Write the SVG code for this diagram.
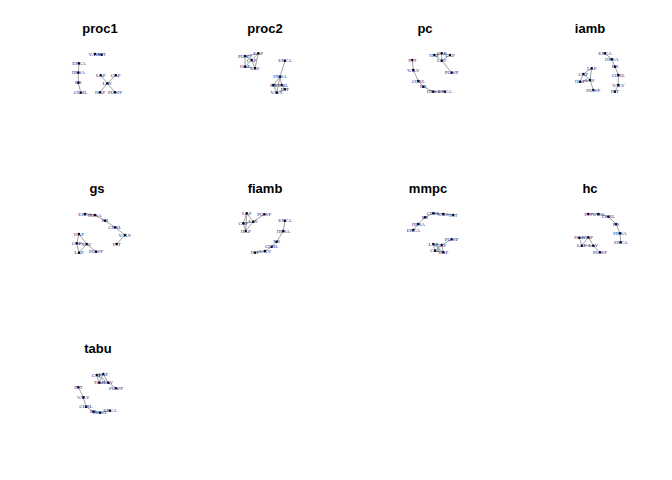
<svg xmlns="http://www.w3.org/2000/svg" width="672" height="480" viewBox="0 0 672 480">
<style>
.t{font-family:"Liberation Sans",Arial,sans-serif;font-weight:bold;font-size:13px;text-anchor:middle;fill:#000}
.n circle{fill:#000}
.n text{font-family:"Liberation Serif","Times New Roman",serif;font-size:5px;fill:#1c1c80;text-anchor:middle;dominant-baseline:central}
.e line{stroke:#8a8a8a;stroke-width:0.8}
</style>
<rect width="672" height="480" fill="#fff"/>
<g id="titles">
<text class="t" x="100" y="33">proc1</text>
<text class="t" x="265" y="33">proc2</text>
<text class="t" x="425" y="33">pc</text>
<text class="t" x="590" y="33">iamb</text>
<text class="t" x="97" y="193">gs</text>
<text class="t" x="265" y="193">fiamb</text>
<text class="t" x="428" y="193">mmpc</text>
<text class="t" x="590" y="193">hc</text>
<text class="t" x="98" y="353">tabu</text>
</g>
<g id="connectors" class="e">
<!-- p1 -->
<line x1="79" y1="63.3" x2="78.3" y2="72.7"/><line x1="78.3" y1="72.7" x2="78.3" y2="82.7"/><line x1="78.3" y1="82.7" x2="80.7" y2="92.7"/><line x1="95" y1="54" x2="101.7" y2="54.7"/><line x1="100.7" y1="75.3" x2="107.3" y2="83.3"/><line x1="115.7" y1="75.3" x2="107.3" y2="83.3"/><line x1="107.3" y1="83.3" x2="100" y2="92.3"/><line x1="107.3" y1="83.3" x2="115" y2="92.3"/>
<!-- p2 -->
<line x1="245" y1="56" x2="258.3" y2="53.3"/><line x1="245" y1="56" x2="251.7" y2="60"/><line x1="258.3" y1="53.3" x2="251.7" y2="60"/><line x1="251.7" y1="60" x2="245" y2="66.7"/><line x1="251.7" y1="60" x2="255" y2="68.3"/><line x1="245" y1="66.7" x2="255" y2="68.3"/><line x1="245" y1="56" x2="245" y2="66.7"/><line x1="258.3" y1="53.3" x2="255" y2="68.3"/>
<line x1="285" y1="60.7" x2="280" y2="76.7"/><line x1="280" y1="76.7" x2="273.3" y2="85"/><line x1="280" y1="76.7" x2="281.7" y2="85"/><line x1="273.3" y1="85" x2="281.7" y2="85"/><line x1="273.3" y1="85" x2="276.7" y2="92.7"/><line x1="281.7" y1="85" x2="285" y2="89.3"/><line x1="276.7" y1="92.7" x2="285" y2="89.3"/><line x1="280" y1="76.7" x2="276.7" y2="92.7"/>
<!-- p3 -->
<line x1="412.3" y1="60" x2="413.3" y2="70"/><line x1="413.3" y1="70" x2="418.3" y2="81"/><line x1="418.3" y1="81" x2="423.3" y2="86.7"/><line x1="423.3" y1="86.7" x2="433.3" y2="91.7"/><line x1="433.3" y1="91.7" x2="445" y2="91.7"/><line x1="434.3" y1="55" x2="441.7" y2="53.3"/><line x1="441.7" y1="53.3" x2="450" y2="55"/><line x1="434.3" y1="55" x2="441.7" y2="60.7"/><line x1="441.7" y1="53.3" x2="441.7" y2="60.7"/><line x1="450" y1="55" x2="441.7" y2="60.7"/><line x1="441.7" y1="60.7" x2="451.7" y2="72.7"/>
<!-- p4 -->
<line x1="605" y1="53.3" x2="611.7" y2="59.3"/><line x1="611.7" y1="59.3" x2="615" y2="66.7"/><line x1="615" y1="66.7" x2="618.3" y2="75"/><line x1="618.3" y1="75" x2="618.3" y2="85"/><line x1="618.3" y1="85" x2="615" y2="91.7"/><line x1="591.7" y1="68.3" x2="583.3" y2="74"/><line x1="591.7" y1="68.3" x2="590" y2="80"/><line x1="583.3" y1="74" x2="590" y2="80"/><line x1="583.3" y1="74" x2="580" y2="81.7"/><line x1="580" y1="81.7" x2="590" y2="80"/><line x1="590" y1="80" x2="593.3" y2="90"/>
<!-- p5 -->
<line x1="85" y1="214" x2="95" y2="215"/><line x1="95" y1="215" x2="105" y2="220.7"/><line x1="105" y1="220.7" x2="115" y2="227.3"/><line x1="115" y1="227.3" x2="125" y2="235"/><line x1="125" y1="235" x2="116.7" y2="244"/><line x1="79" y1="234" x2="76.7" y2="243.3"/><line x1="79" y1="234" x2="86.7" y2="244"/><line x1="76.7" y1="243.3" x2="86.7" y2="244"/><line x1="76.7" y1="243.3" x2="79" y2="252.7"/><line x1="79" y1="252.7" x2="86.7" y2="244"/><line x1="86.7" y1="244" x2="96" y2="251.7"/>
<!-- p6 -->
<line x1="246.7" y1="213.3" x2="243.3" y2="223.3"/><line x1="246.7" y1="213.3" x2="253.3" y2="221.7"/><line x1="243.3" y1="223.3" x2="253.3" y2="221.7"/><line x1="243.3" y1="223.3" x2="245.7" y2="231"/><line x1="253.3" y1="221.7" x2="245.7" y2="231"/><line x1="253.3" y1="221.7" x2="264.3" y2="214.3"/><line x1="246.7" y1="213.3" x2="245.7" y2="231"/><line x1="285" y1="220.7" x2="283.3" y2="231"/><line x1="283.3" y1="231" x2="276.7" y2="241.7"/><line x1="276.7" y1="241.7" x2="271.7" y2="246.7"/><line x1="271.7" y1="246.7" x2="265" y2="251"/><line x1="265" y1="251" x2="255" y2="252.7"/>
<!-- p7 -->
<line x1="433.3" y1="213.3" x2="443.3" y2="214"/><line x1="443.3" y1="214" x2="453.3" y2="215"/><line x1="433.3" y1="213.3" x2="425" y2="217.3"/><line x1="425" y1="217.3" x2="418.3" y2="224"/><line x1="418.3" y1="224" x2="413.3" y2="230"/><line x1="451.7" y1="239.3" x2="441.7" y2="245"/><line x1="433.3" y1="244" x2="441.7" y2="245"/><line x1="433.3" y1="244" x2="435" y2="250.7"/><line x1="435" y1="250.7" x2="443.3" y2="252.3"/><line x1="441.7" y1="245" x2="443.3" y2="252.3"/><line x1="433.3" y1="244" x2="443.3" y2="252.3"/><line x1="441.7" y1="245" x2="435" y2="250.7"/>
<!-- p8 -->
<line x1="588.3" y1="214" x2="598.3" y2="214"/><line x1="598.3" y1="214" x2="608.3" y2="216.7"/><line x1="608.3" y1="216.7" x2="616" y2="224"/><line x1="616" y1="224" x2="620" y2="233.3"/><line x1="620" y1="233.3" x2="620.7" y2="242.3"/><line x1="579.3" y1="237.7" x2="588.3" y2="237.3"/><line x1="579.3" y1="237.7" x2="581.7" y2="245.7"/><line x1="588.3" y1="237.3" x2="593.3" y2="245.7"/><line x1="581.7" y1="245.7" x2="593.3" y2="245.7"/><line x1="588.3" y1="237.3" x2="581.7" y2="245.7"/><line x1="593.3" y1="245.7" x2="600" y2="252.3"/>
<!-- p9 -->
<line x1="96.7" y1="375" x2="103.3" y2="374"/><line x1="96.7" y1="375" x2="99.3" y2="382.7"/><line x1="103.3" y1="374" x2="108.3" y2="382.7"/><line x1="99.3" y1="382.7" x2="108.3" y2="382.7"/><line x1="103.3" y1="374" x2="99.3" y2="382.7"/><line x1="96.7" y1="375" x2="108.3" y2="382.7"/><line x1="108.3" y1="382.7" x2="116" y2="388.3"/><line x1="78.3" y1="387.3" x2="83.3" y2="397.3"/><line x1="83.3" y1="397.3" x2="86" y2="406.7"/><line x1="86" y1="406.7" x2="93.3" y2="411.7"/><line x1="93.3" y1="411.7" x2="100" y2="412.7"/><line x1="100" y1="412.7" x2="110" y2="410.7"/>
</g>
<!-- p1 nodes -->
<g id="p1-VALV" class="n"><circle cx="95" cy="54" r="1.2"/><text x="95" y="54">VALV</text></g>
<g id="p1-INT" class="n"><circle cx="101.7" cy="54.7" r="1.2"/><text x="101.7" y="54.7">INT</text></g>
<g id="p1-ERCA" class="n"><circle cx="79" cy="63.3" r="1.2"/><text x="79" y="63.3">ERCA</text></g>
<g id="p1-HRSA" class="n"><circle cx="78.3" cy="72.7" r="1.2"/><text x="78.3" y="72.7">HRSA</text></g>
<g id="p1-RR" class="n"><circle cx="78.3" cy="82.7" r="1.2"/><text x="78.3" y="82.7">RR</text></g>
<g id="p1-CORL" class="n"><circle cx="80.7" cy="92.7" r="1.2"/><text x="80.7" y="92.7">CORL</text></g>
<g id="p1-LAP" class="n"><circle cx="100.7" cy="75.3" r="1.2"/><text x="100.7" y="75.3">LAP</text></g>
<g id="p1-CAP" class="n"><circle cx="115.7" cy="75.3" r="1.2"/><text x="115.7" y="75.3">CAP</text></g>
<g id="p1-LAV" class="n"><circle cx="107.3" cy="83.3" r="1.2"/><text x="107.3" y="83.3">LAV</text></g>
<g id="p1-HAP" class="n"><circle cx="100" cy="92.3" r="1.2"/><text x="100" y="92.3">HAP</text></g>
<g id="p1-POWP" class="n"><circle cx="115" cy="92.3" r="1.2"/><text x="115" y="92.3">POWP</text></g>
<!-- p2 nodes -->
<g id="p2-POWP" class="n"><circle cx="245" cy="56" r="1.2"/><text x="245" y="56">POWP</text></g>
<g id="p2-LAP" class="n"><circle cx="258.3" cy="53.3" r="1.2"/><text x="258.3" y="53.3">LAP</text></g>
<g id="p2-CAP" class="n"><circle cx="251.7" cy="60" r="1.2"/><text x="251.7" y="60">CAP</text></g>
<g id="p2-HAP" class="n"><circle cx="245" cy="66.7" r="1.2"/><text x="245" y="66.7">HAP</text></g>
<g id="p2-LAV" class="n"><circle cx="255" cy="68.3" r="1.2"/><text x="255" y="68.3">LAV</text></g>
<g id="p2-ERCA" class="n"><circle cx="285" cy="60.7" r="1.2"/><text x="285" y="60.7">ERCA</text></g>
<g id="p2-HRSA" class="n"><circle cx="280" cy="76.7" r="1.2"/><text x="280" y="76.7">HRSA</text></g>
<g id="p2-RR" class="n"><circle cx="273.3" cy="85" r="1.2"/><text x="273.3" y="85">RR</text></g>
<g id="p2-CORL" class="n"><circle cx="281.7" cy="85" r="1.2"/><text x="281.7" y="85">CORL</text></g>
<g id="p2-INT" class="n"><circle cx="285" cy="89.3" r="1.2"/><text x="285" y="89.3">INT</text></g>
<g id="p2-VALV" class="n"><circle cx="276.7" cy="92.7" r="1.2"/><text x="276.7" y="92.7">VALV</text></g>
<!-- p3 nodes -->
<g id="p3-INT" class="n"><circle cx="412.3" cy="60" r="1.2"/><text x="412.3" y="60">INT</text></g>
<g id="p3-VALV" class="n"><circle cx="413.3" cy="70" r="1.2"/><text x="413.3" y="70">VALV</text></g>
<g id="p3-CORL" class="n"><circle cx="418.3" cy="81" r="1.2"/><text x="418.3" y="81">CORL</text></g>
<g id="p3-RR" class="n"><circle cx="423.3" cy="86.7" r="1.2"/><text x="423.3" y="86.7">RR</text></g>
<g id="p3-HRSA" class="n"><circle cx="433.3" cy="91.7" r="1.2"/><text x="433.3" y="91.7">HRSA</text></g>
<g id="p3-ERCA" class="n"><circle cx="445" cy="91.7" r="1.2"/><text x="445" y="91.7">ERCA</text></g>
<g id="p3-HAP" class="n"><circle cx="434.3" cy="55" r="1.2"/><text x="434.3" y="55">HAP</text></g>
<g id="p3-CAP" class="n"><circle cx="441.7" cy="53.3" r="1.2"/><text x="441.7" y="53.3">CAP</text></g>
<g id="p3-LAP" class="n"><circle cx="450" cy="55" r="1.2"/><text x="450" y="55">LAP</text></g>
<g id="p3-LAV" class="n"><circle cx="441.7" cy="60.7" r="1.2"/><text x="441.7" y="60.7">LAV</text></g>
<g id="p3-POWP" class="n"><circle cx="451.7" cy="72.7" r="1.2"/><text x="451.7" y="72.7">POWP</text></g>
<!-- p4 nodes -->
<g id="p4-ERCA" class="n"><circle cx="605" cy="53.3" r="1.2"/><text x="605" y="53.3">ERCA</text></g>
<g id="p4-HRSA" class="n"><circle cx="611.7" cy="59.3" r="1.2"/><text x="611.7" y="59.3">HRSA</text></g>
<g id="p4-RR" class="n"><circle cx="615" cy="66.7" r="1.2"/><text x="615" y="66.7">RR</text></g>
<g id="p4-CORL" class="n"><circle cx="618.3" cy="75" r="1.2"/><text x="618.3" y="75">CORL</text></g>
<g id="p4-VALV" class="n"><circle cx="618.3" cy="85" r="1.2"/><text x="618.3" y="85">VALV</text></g>
<g id="p4-INT" class="n"><circle cx="615" cy="91.7" r="1.2"/><text x="615" y="91.7">INT</text></g>
<g id="p4-LAP" class="n"><circle cx="591.7" cy="68.3" r="1.2"/><text x="591.7" y="68.3">LAP</text></g>
<g id="p4-CAP" class="n"><circle cx="583.3" cy="74" r="1.2"/><text x="583.3" y="74">CAP</text></g>
<g id="p4-LAV" class="n"><circle cx="590" cy="80" r="1.2"/><text x="590" y="80">LAV</text></g>
<g id="p4-HAP" class="n"><circle cx="580" cy="81.7" r="1.2"/><text x="580" y="81.7">HAP</text></g>
<g id="p4-POWP" class="n"><circle cx="593.3" cy="90" r="1.2"/><text x="593.3" y="90">POWP</text></g>
<!-- p5 nodes -->
<g id="p5-ERCA" class="n"><circle cx="85" cy="214" r="1.2"/><text x="85" y="214">ERCA</text></g>
<g id="p5-HRSA" class="n"><circle cx="95" cy="215" r="1.2"/><text x="95" y="215">HRSA</text></g>
<g id="p5-RR" class="n"><circle cx="105" cy="220.7" r="1.2"/><text x="105" y="220.7">RR</text></g>
<g id="p5-CORL" class="n"><circle cx="115" cy="227.3" r="1.2"/><text x="115" y="227.3">CORL</text></g>
<g id="p5-VALV" class="n"><circle cx="125" cy="235" r="1.2"/><text x="125" y="235">VALV</text></g>
<g id="p5-INT" class="n"><circle cx="116.7" cy="244" r="1.2"/><text x="116.7" y="244">INT</text></g>
<g id="p5-HAP" class="n"><circle cx="79" cy="234" r="1.2"/><text x="79" y="234">HAP</text></g>
<g id="p5-CAP" class="n"><circle cx="76.7" cy="243.3" r="1.2"/><text x="76.7" y="243.3">CAP</text></g>
<g id="p5-LAV" class="n"><circle cx="86.7" cy="244" r="1.2"/><text x="86.7" y="244">LAV</text></g>
<g id="p5-LAP" class="n"><circle cx="79" cy="252.7" r="1.2"/><text x="79" y="252.7">LAP</text></g>
<g id="p5-POWP" class="n"><circle cx="96" cy="251.7" r="1.2"/><text x="96" y="251.7">POWP</text></g>
<!-- p6 nodes -->
<g id="p6-LAP" class="n"><circle cx="246.7" cy="213.3" r="1.2"/><text x="246.7" y="213.3">LAP</text></g>
<g id="p6-POWP" class="n"><circle cx="264.3" cy="214.3" r="1.2"/><text x="264.3" y="214.3">POWP</text></g>
<g id="p6-CAP" class="n"><circle cx="243.3" cy="223.3" r="1.2"/><text x="243.3" y="223.3">CAP</text></g>
<g id="p6-LAV" class="n"><circle cx="253.3" cy="221.7" r="1.2"/><text x="253.3" y="221.7">LAV</text></g>
<g id="p6-HAP" class="n"><circle cx="245.7" cy="231" r="1.2"/><text x="245.7" y="231">HAP</text></g>
<g id="p6-ERCA" class="n"><circle cx="285" cy="220.7" r="1.2"/><text x="285" y="220.7">ERCA</text></g>
<g id="p6-HRSA" class="n"><circle cx="283.3" cy="231" r="1.2"/><text x="283.3" y="231">HRSA</text></g>
<g id="p6-RR" class="n"><circle cx="276.7" cy="241.7" r="1.2"/><text x="276.7" y="241.7">RR</text></g>
<g id="p6-CORL" class="n"><circle cx="271.7" cy="246.7" r="1.2"/><text x="271.7" y="246.7">CORL</text></g>
<g id="p6-VALV" class="n"><circle cx="265" cy="251" r="1.2"/><text x="265" y="251">VALV</text></g>
<g id="p6-INT" class="n"><circle cx="255" cy="252.7" r="1.2"/><text x="255" y="252.7">INT</text></g>
<!-- p7 nodes -->
<g id="p7-CORL" class="n"><circle cx="433.3" cy="213.3" r="1.2"/><text x="433.3" y="213.3">CORL</text></g>
<g id="p7-VALV" class="n"><circle cx="443.3" cy="214" r="1.2"/><text x="443.3" y="214">VALV</text></g>
<g id="p7-INT" class="n"><circle cx="453.3" cy="215" r="1.2"/><text x="453.3" y="215">INT</text></g>
<g id="p7-RR" class="n"><circle cx="425" cy="217.3" r="1.2"/><text x="425" y="217.3">RR</text></g>
<g id="p7-HRSA" class="n"><circle cx="418.3" cy="224" r="1.2"/><text x="418.3" y="224">HRSA</text></g>
<g id="p7-ERCA" class="n"><circle cx="413.3" cy="230" r="1.2"/><text x="413.3" y="230">ERCA</text></g>
<g id="p7-POWP" class="n"><circle cx="451.7" cy="239.3" r="1.2"/><text x="451.7" y="239.3">POWP</text></g>
<g id="p7-LAP" class="n"><circle cx="433.3" cy="244" r="1.2"/><text x="433.3" y="244">LAP</text></g>
<g id="p7-LAV" class="n"><circle cx="441.7" cy="245" r="1.2"/><text x="441.7" y="245">LAV</text></g>
<g id="p7-CAP" class="n"><circle cx="435" cy="250.7" r="1.2"/><text x="435" y="250.7">CAP</text></g>
<g id="p7-HAP" class="n"><circle cx="443.3" cy="252.3" r="1.2"/><text x="443.3" y="252.3">HAP</text></g>
<!-- p8 nodes -->
<g id="p8-INT" class="n"><circle cx="588.3" cy="214" r="1.2"/><text x="588.3" y="214">INT</text></g>
<g id="p8-VALV" class="n"><circle cx="598.3" cy="214" r="1.2"/><text x="598.3" y="214">VALV</text></g>
<g id="p8-CORL" class="n"><circle cx="608.3" cy="216.7" r="1.2"/><text x="608.3" y="216.7">CORL</text></g>
<g id="p8-RR" class="n"><circle cx="616" cy="224" r="1.2"/><text x="616" y="224">RR</text></g>
<g id="p8-HRSA" class="n"><circle cx="620" cy="233.3" r="1.2"/><text x="620" y="233.3">HRSA</text></g>
<g id="p8-ERCA" class="n"><circle cx="620.7" cy="242.3" r="1.2"/><text x="620.7" y="242.3">ERCA</text></g>
<g id="p8-HAP" class="n"><circle cx="579.3" cy="237.7" r="1.2"/><text x="579.3" y="237.7">HAP</text></g>
<g id="p8-CAP" class="n"><circle cx="588.3" cy="237.3" r="1.2"/><text x="588.3" y="237.3">CAP</text></g>
<g id="p8-LAP" class="n"><circle cx="581.7" cy="245.7" r="1.2"/><text x="581.7" y="245.7">LAP</text></g>
<g id="p8-LAV" class="n"><circle cx="593.3" cy="245.7" r="1.2"/><text x="593.3" y="245.7">LAV</text></g>
<g id="p8-POWP" class="n"><circle cx="600" cy="252.3" r="1.2"/><text x="600" y="252.3">POWP</text></g>
<!-- p9 nodes -->
<g id="p9-CAP" class="n"><circle cx="96.7" cy="375" r="1.2"/><text x="96.7" y="375">CAP</text></g>
<g id="p9-LAP" class="n"><circle cx="103.3" cy="374" r="1.2"/><text x="103.3" y="374">LAP</text></g>
<g id="p9-HAP" class="n"><circle cx="99.3" cy="382.7" r="1.2"/><text x="99.3" y="382.7">HAP</text></g>
<g id="p9-LAV" class="n"><circle cx="108.3" cy="382.7" r="1.2"/><text x="108.3" y="382.7">LAV</text></g>
<g id="p9-POWP" class="n"><circle cx="116" cy="388.3" r="1.2"/><text x="116" y="388.3">POWP</text></g>
<g id="p9-INT" class="n"><circle cx="78.3" cy="387.3" r="1.2"/><text x="78.3" y="387.3">INT</text></g>
<g id="p9-VALV" class="n"><circle cx="83.3" cy="397.3" r="1.2"/><text x="83.3" y="397.3">VALV</text></g>
<g id="p9-CORL" class="n"><circle cx="86" cy="406.7" r="1.2"/><text x="86" y="406.7">CORL</text></g>
<g id="p9-RR" class="n"><circle cx="93.3" cy="411.7" r="1.2"/><text x="93.3" y="411.7">RR</text></g>
<g id="p9-HRSA" class="n"><circle cx="100" cy="412.7" r="1.2"/><text x="100" y="412.7">HRSA</text></g>
<g id="p9-ERCA" class="n"><circle cx="110" cy="410.7" r="1.2"/><text x="110" y="410.7">ERCA</text></g>
</svg>
